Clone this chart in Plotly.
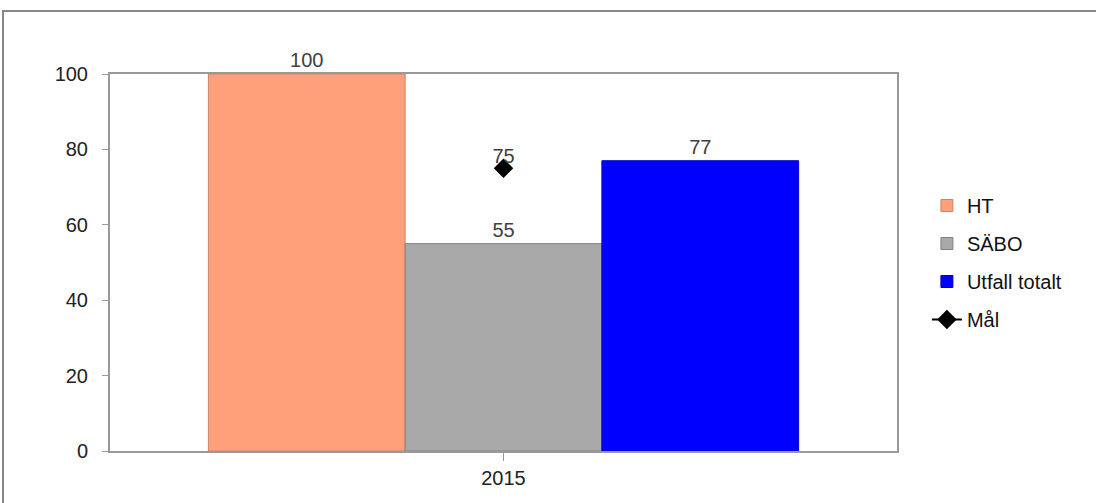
import plotly.graph_objects as go

categories = ["2015"]
ht = [100]
sabo = [55]
utfall = [77]
mal = [75]

FONT = "Liberation Sans, Arial, sans-serif"
FS = 20

fig = go.Figure()
fig.add_trace(go.Bar(x=categories, y=ht, name="HT", text=ht, textposition="outside",
                     marker=dict(color="#FFA07A", line=dict(color="#C8866A", width=1)),
                     legendgroup="a", cliponaxis=False))
fig.add_trace(go.Bar(x=categories, y=sabo, name="SÄBO", text=sabo, textposition="outside",
                     marker=dict(color="#A9A9A9", line=dict(color="#808080", width=1)),
                     legendgroup="b", cliponaxis=False))
fig.add_trace(go.Bar(x=categories, y=utfall, name="Utfall totalt", text=utfall, textposition="outside",
                     marker=dict(color="#0000FF", line=dict(color="#0000CC", width=1)),
                     legendgroup="c", cliponaxis=False))
fig.add_trace(go.Scatter(x=categories, y=mal, name="Mål", mode="lines+markers",
                         marker=dict(symbol="diamond", size=15, color="black"),
                         line=dict(color="black", width=2), legendgroup="d", cliponaxis=False))
fig.add_trace(go.Scatter(x=categories, y=mal, mode="text", text=mal, textposition="top center",
                         textfont=dict(family=FONT, size=FS, color="#404040"),
                         showlegend=False, cliponaxis=False))

fig.update_traces(selector=dict(type="bar"), textfont=dict(family=FONT, size=FS, color="#404040"))

fig.update_layout(
    width=1096, height=503,
    margin=dict(l=110, r=199, t=74, b=52),
    paper_bgcolor="white", plot_bgcolor="white",
    barmode="group", bargap=0.25, bargroupgap=0,
    font=dict(family=FONT, size=FS, color="#222222"),
    showlegend=True,
    legend=dict(x=1.038, xanchor="left", y=0.5, yanchor="middle",
                traceorder="grouped", tracegroupgap=9,
                font=dict(family=FONT, size=FS, color="#111111"),
                bgcolor="rgba(0,0,0,0)"),
    xaxis=dict(showline=True, linecolor="#999999", linewidth=2, mirror=True,
               ticks="outside", ticklen=8, tickcolor="#999999", tickwidth=1,
               showgrid=False, zeroline=False,
               tickfont=dict(family=FONT, size=FS, color="#222222")),
    yaxis=dict(range=[0, 100], showline=True, linecolor="#999999", linewidth=2, mirror=True,
               ticks="outside", ticklen=6, tickcolor="#999999", tickwidth=1,
               ticklabelstandoff=10,
               tickvals=[0, 20, 40, 60, 80, 100], showgrid=False, zeroline=False,
               tickfont=dict(family=FONT, size=FS, color="#222222")),
    shapes=[dict(type="rect", xref="paper", yref="paper",
                 x0=(3 - 110) / 787, x1=(1110 - 110) / 787,
                 y0=(451 - 520) / 377, y1=1 + (74 - 11) / 377,
                 line=dict(color="#888888", width=2), layer="below")],
)

fig.write_html("out.html", config={"displayModeBar": False},
               post_script="document.body.style.margin='0';document.body.style.padding='0';")
